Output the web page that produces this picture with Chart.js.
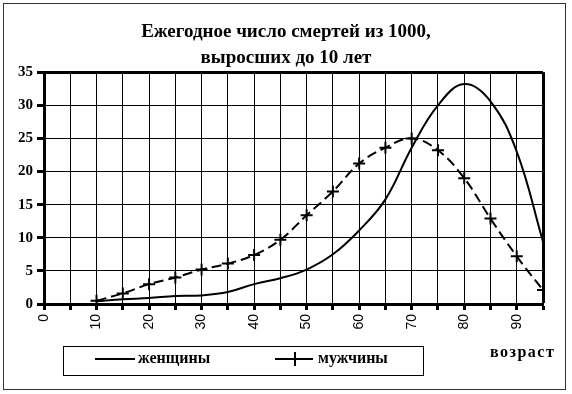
<!DOCTYPE html>
<html>
<head>
<meta charset="utf-8">
<script src="https://cdn.jsdelivr.net/npm/chart.js@4/dist/chart.umd.min.js"></script>
<style>
    html, body { margin: 0; padding: 0; background: #fff; }
    #wrap { position: relative; width: 572px; height: 394px; }
    #frame { position: absolute; left: 3px; top: 3px; width: 563px; height: 387px; border: 1px solid #333; box-sizing: border-box; pointer-events: none; }
</style>
</head>
<body>
<div id="wrap">
    <canvas id="deathChart" width="572" height="394"></canvas>
    <div id="frame"></div>
</div>
<script>
// Ages (x axis), values per 1000 survivors to age 10
const ages = [10, 15, 20, 25, 30, 35, 40, 45, 50, 55, 60, 65, 70, 75, 80, 85, 90, 95];
const women = [0.4, 0.7, 0.9, 1.2, 1.3, 1.8, 3.0, 3.9, 5.2, 7.5, 11.1, 15.8, 23.6, 30.0, 33.2, 30.6, 23.0, 9.4];
const men = [0.5, 1.6, 3.0, 4.0, 5.2, 6.1, 7.4, 9.7, 13.4, 17.0, 21.2, 23.6, 25.0, 23.2, 19.0, 12.9, 7.2, 2.1];
const seriesNames = ['женщины', 'мужчины'];
const titleLines = ['Ежегодное число смертей из 1000,', 'выросших до 10 лет'];
const axisName = 'возраст';

const serif = "'Liberation Serif', 'Times New Roman', serif";
const sans = "'Liberation Sans', Arial, sans-serif";

// Legend box + axis name drawn by hand, like the Excel original
const boxLegend = {
    id: 'boxLegend',
    afterDraw(chart) {
        const ctx = chart.ctx;
        ctx.save();
        ctx.strokeStyle = '#000';
        ctx.lineWidth = 1;
        ctx.strokeRect(63.5, 346.5, 360, 29);

        const y = 359;
        ctx.lineWidth = 2;
        ctx.setLineDash([]);
        ctx.beginPath();
        ctx.moveTo(95, y);
        ctx.lineTo(135, y);
        ctx.stroke();

        ctx.beginPath();
        ctx.moveTo(275, y);
        ctx.lineTo(289, y);
        ctx.moveTo(300, y);
        ctx.lineTo(313, y);
        ctx.moveTo(288, y);
        ctx.lineTo(302, y);
        ctx.moveTo(295, y - 7);
        ctx.lineTo(295, y + 7);
        ctx.stroke();

        ctx.fillStyle = '#000';
        ctx.font = 'bold 16px ' + serif;
        ctx.textBaseline = 'middle';
        ctx.textAlign = 'left';
        ctx.fillText(seriesNames[0], 138, y);
        ctx.fillText(seriesNames[1], 318, y);
        ctx.letterSpacing = '1.5px';
        ctx.fillText(axisName, 490, 353);
        ctx.restore();
    }
};

const ctx = document.getElementById('deathChart').getContext('2d');
new Chart(ctx, {
    type: 'line',
    data: {
        datasets: [{
            label: seriesNames[0],
            data: ages.map((a, i) => ({ x: a, y: women[i] })),
            borderColor: '#000',
            borderWidth: 2,
            pointRadius: 0,
            tension: 0.4,
            fill: false
        }, {
            label: seriesNames[1],
            data: ages.map((a, i) => ({ x: a, y: men[i] })),
            borderColor: '#000',
            borderWidth: 2,
            borderDash: [10, 5],
            pointStyle: 'cross',
            pointRadius: 6,
            pointBorderWidth: 2,
            pointBorderColor: '#000',
            pointBackgroundColor: '#000',
            tension: 0.4,
            fill: false
        }]
    },
    options: {
        responsive: false,
        animation: false,
        layout: { padding: { left: 0, right: 0, top: 0, bottom: 60 } },
        plugins: {
            legend: { display: false },
            tooltip: { enabled: false },
            title: {
                display: true,
                text: titleLines,
                color: '#000',
                font: { family: serif, size: 19, weight: 'bold', lineHeight: 1.32 },
                padding: { top: 20, bottom: 2 }
            }
        },
        scales: {
            x: {
                type: 'linear',
                min: 0,
                max: 95,
                afterFit: s => { s.height = 30; },
                border: { display: true, color: '#000', width: 3 },
                grid: {
                    color: '#000',
                    lineWidth: c => (c.tick && c.tick.value === 95 ? 3 : 1),
                    tickLength: 6,
                    tickWidth: 3,
                    tickColor: '#000'
                },
                ticks: {
                    stepSize: 5,
                    autoSkip: false,
                    maxRotation: 90,
                    minRotation: 90,
                    color: '#000',
                    padding: 4,
                    font: { family: sans, size: 14 },
                    callback: v => (v % 10 === 0 && v < 95 ? v : '')
                }
            },
            y: {
                min: 0,
                max: 35,
                afterFit: s => { s.width = 44; },
                border: { display: true, color: '#000', width: 3 },
                grid: {
                    color: '#000',
                    lineWidth: c => (c.tick && c.tick.value === 35 ? 3 : 1),
                    tickLength: 7,
                    tickWidth: 3,
                    tickColor: '#000'
                },
                ticks: {
                    stepSize: 5,
                    color: '#000',
                    padding: 4,
                    font: { family: serif, size: 15, weight: 'bold' }
                }
            },
            // empty right-hand axis: keeps the margin so the title centres on the page
            yRight: {
                position: 'right',
                min: 0,
                max: 35,
                afterFit: s => { s.width = 29; },
                border: { display: false },
                grid: { display: false, drawTicks: false },
                ticks: { display: false }
            }
        }
    },
    plugins: [boxLegend]
});
</script>
</body>
</html>
